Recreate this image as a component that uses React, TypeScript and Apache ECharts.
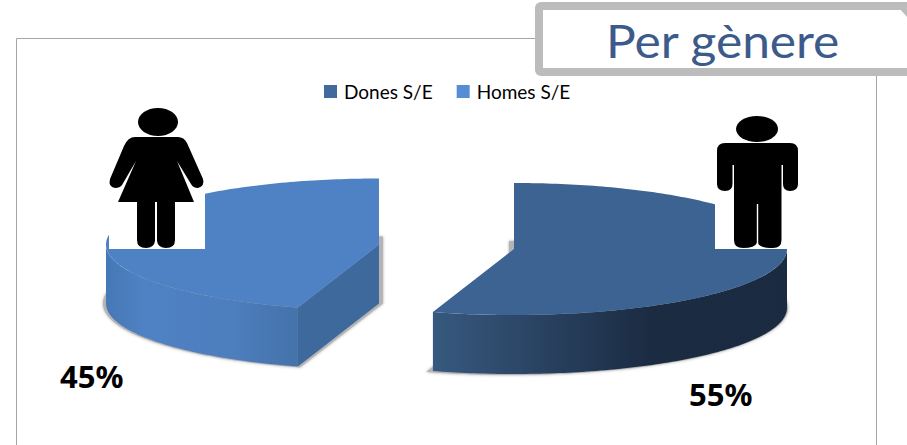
import React, { useEffect, useRef } from "react";
import * as echarts from "echarts";

const categories = ["Dones S/E", "Homes S/E"];
const shareValues = [54.8, 45.2];
const titleText = "Per gènere";

const WOMAN =
  "M135 137 L178 137 Q184 137 187 143 L203 179 Q205 186 198 188 Q193 188 191 184 L177 161 L194 202 L175 202 L175 240 Q175 248 166 248 Q158 248 157 241 L157 202 L155 202 L155 241 Q154 248 146 248 Q137 248 137 240 L137 202 L118 202 L136 161 L122 185 Q120 188 115 188 Q108 187 110 179 L124 146 Q128 137 135 137 Z";
const MAN =
  "M725 143 L790 143 Q798 143 798 151 L798 184 Q798 191 790 191 Q783 191 783 184 L783 165 L781.5 165 L781.5 240 Q781.5 248 773 248 Q759 248 758.2 243 L758.2 204 L756.8 204 L756.8 243 Q755 248 743 248 Q734 248 734 240 L734 165 L732.5 165 L732.5 184 Q732.5 191 725 191 Q717 191 717 184 L717 151 Q717 143 725 143 Z";
echarts.graphic.registerShape("womanFigure", echarts.graphic.extendPath(WOMAN as any, {}) as any);
echarts.graphic.registerShape("manFigure", echarts.graphic.extendPath(MAN as any, {}) as any);

const RX = 273;
const RY = 66;
const DEPTH = 59;
const DEG = Math.PI / 180;

const pt = (cx: number, cy: number, rx: number, ry: number, a: number): number[] => [
  cx + rx * Math.sin(a * DEG),
  cy - ry * Math.cos(a * DEG),
];
const arc = (cx: number, cy: number, rx: number, ry: number, a0: number, a1: number): number[][] => {
  const out: number[][] = [];
  const n = Math.max(2, Math.ceil(Math.abs(a1 - a0)));
  for (let i = 0; i <= n; i++) out.push(pt(cx, cy, rx, ry, a0 + ((a1 - a0) * i) / n));
  return out;
};

interface SliceLook {
  cx: number;
  cy: number;
  shadowDx: number;
  shadowDr: number;
  top: string;
  cut: string | null;
  wall: [number, string][];
  label: number[];
}

const looks: SliceLook[] = [
  {
    cx: 514,
    cy: 249,
    shadowDx: -5,
    shadowDr: 6,
    top: "#3d6392",
    cut: null,
    wall: [
      [0, "#37597f"],
      [0.62, "#1b2b42"],
      [1, "#1a2a40"],
    ],
    label: [689, 409],
  },
  {
    cx: 379,
    cy: 244.5,
    shadowDx: 4,
    shadowDr: 7,
    top: "#4f82c4",
    cut: "#3e699c",
    wall: [
      [0, "#4677b6"],
      [0.2, "#4f82c4"],
      [0.65, "#4d7ebe"],
      [1, "#4472aa"],
    ],
    label: [60, 391],
  },
];

const total = shareValues.reduce((s, v) => s + v, 0);

function makeRenderItem(index: number) {
  const start = shareValues.slice(0, index).reduce((s, v) => s + v, 0);
  return (_params: any, api: any) => {
    const look = looks[index];
    const a0 = (start / total) * 360;
    const a1 = a0 + (api.value(0) / total) * 360;
    const { cx, cy } = look;
    const children: any[] = [];
    // soft ground shadow
    children.push({
      type: "polygon",
      shape: {
        points: [
          [cx + look.shadowDx, cy + DEPTH],
          ...arc(cx + look.shadowDx, cy + DEPTH, RX + look.shadowDr, RY + 1, a0, a1),
        ],
      },
      style: { fill: "#b4b4b4", shadowBlur: 3, shadowColor: "#aaaaaa" },
    });
    // curved outer wall: the part that faces the viewer
    const w0 = Math.max(a0, 90);
    const w1 = Math.min(a1, 270);
    if (w1 > w0) {
      const upper = arc(cx, cy, RX, RY, w0, w1);
      const lower = arc(cx, cy + DEPTH, RX, RY, w1, w0);
      children.push({
        type: "polygon",
        shape: { points: [...upper, ...lower] },
        style: {
          fill: new echarts.graphic.LinearGradient(
            0,
            0,
            1,
            0,
            look.wall.map(([o, c]) => ({ offset: o, color: c }))
          ),
        },
      });
    }
    // flat cut wall
    if (look.cut) {
      const p = pt(cx, cy, RX, RY, a0);
      children.push({
        type: "polygon",
        shape: { points: [[cx, cy], p, [p[0], p[1] + DEPTH], [cx, cy + DEPTH]] },
        style: { fill: look.cut },
      });
    }
    // top face
    children.push({
      type: "polygon",
      shape: { points: [[cx, cy], ...arc(cx, cy, RX, RY, a0, a1)] },
      style: { fill: look.top },
    });
    // percent label
    children.push({
      type: "text",
      style: {
        text: `${Math.round(api.value(0))}%`,
        x: look.label[0],
        y: look.label[1],
        verticalAlign: "bottom",
        align: "left",
        font: 'bold 31px "Noto Sans"',
        fill: "#000000",
        lineHeight: 31,
      },
    });
    return { type: "group", children };
  };
}

const legendColors = ["#426a9d", "#558ed5"];

export default function App() {
  const ref = useRef<HTMLDivElement>(null);
  useEffect(() => {
    document.body.style.margin = "0";
    document.body.style.background = "#ffffff";
    const chart = echarts.init(ref.current!, undefined, { renderer: "svg" });
    chart.setOption({
      animation: false,
      backgroundColor: "#ffffff",
      legend: {
        data: categories,
        left: 319,
        top: 77,
        icon: "rect",
        itemWidth: 13,
        itemHeight: 13,
        itemGap: 24,
        selectedMode: false,
        textStyle: { fontFamily: "Lato", fontSize: 19, color: "#000000", padding: [0, 0, 0, 2] },
      },
      series: categories.map((name, i) => ({
        type: "custom",
        name,
        coordinateSystem: "none",
        silent: true,
        z: 2 + (1 - i),
        itemStyle: { color: legendColors[i] },
        renderItem: makeRenderItem(i),
        data: [[shareValues[i]]],
      })),
      graphic: {
        elements: [
          {
            type: "polyline",
            z: 1,
            silent: true,
            shape: { points: [[16.5, 445], [16.5, 38.5], [540, 38.5]] },
            style: { stroke: "#a6a6a6", lineWidth: 1, fill: "none" },
          },
          {
            type: "line",
            z: 1,
            silent: true,
            shape: { x1: 876.5, y1: 70, x2: 876.5, y2: 445 },
            style: { stroke: "#a6a6a6", lineWidth: 1 },
          },
          { type: "rect", z: 100, silent: true, shape: { x: 109, y: 106, width: 96, height: 143 }, style: { fill: "#ffffff" } },
          { type: "rect", z: 100, silent: true, shape: { x: 715, y: 106, width: 88, height: 143 }, style: { fill: "#ffffff" } },
          { type: "womanFigure", z: 101, silent: true, x: 0, y: 0, style: { fill: "#000000" } },
          { type: "manFigure", z: 101, silent: true, x: 0, y: 0, style: { fill: "#000000" } },
          { type: "ellipse", z: 101, silent: true, shape: { cx: 158, cy: 122, rx: 20, ry: 14 }, style: { fill: "#000000" } },
          { type: "ellipse", z: 101, silent: true, shape: { cx: 757, cy: 129, rx: 21, ry: 13 }, style: { fill: "#000000" } },
          {
            type: "rect",
            z: 110,
            silent: true,
            shape: { x: 539, y: 6, width: 380, height: 66, r: 2 },
            style: { fill: "#ffffff", stroke: "#bcbcbc", lineWidth: 8 },
          },
          {
            type: "polygon",
            z: 110,
            silent: true,
            shape: { points: [[900, 9], [907, 9], [907, 17]] },
            style: { fill: "#bcbcbc" },
          },
          {
            type: "text",
            z: 111,
            silent: true,
            x: 606,
            y: 17,
            scaleX: 1.08,
            style: {
              text: titleText,
              font: '46px "Lato"',
              fill: "#3c5a8a",
              verticalAlign: "top",
              align: "left",
            },
          },
        ],
      },
    });
    return () => chart.dispose();
  }, []);
  return <div ref={ref} style={{ position: "absolute", left: 0, top: 0, width: 907, height: 445 }} />;
}
